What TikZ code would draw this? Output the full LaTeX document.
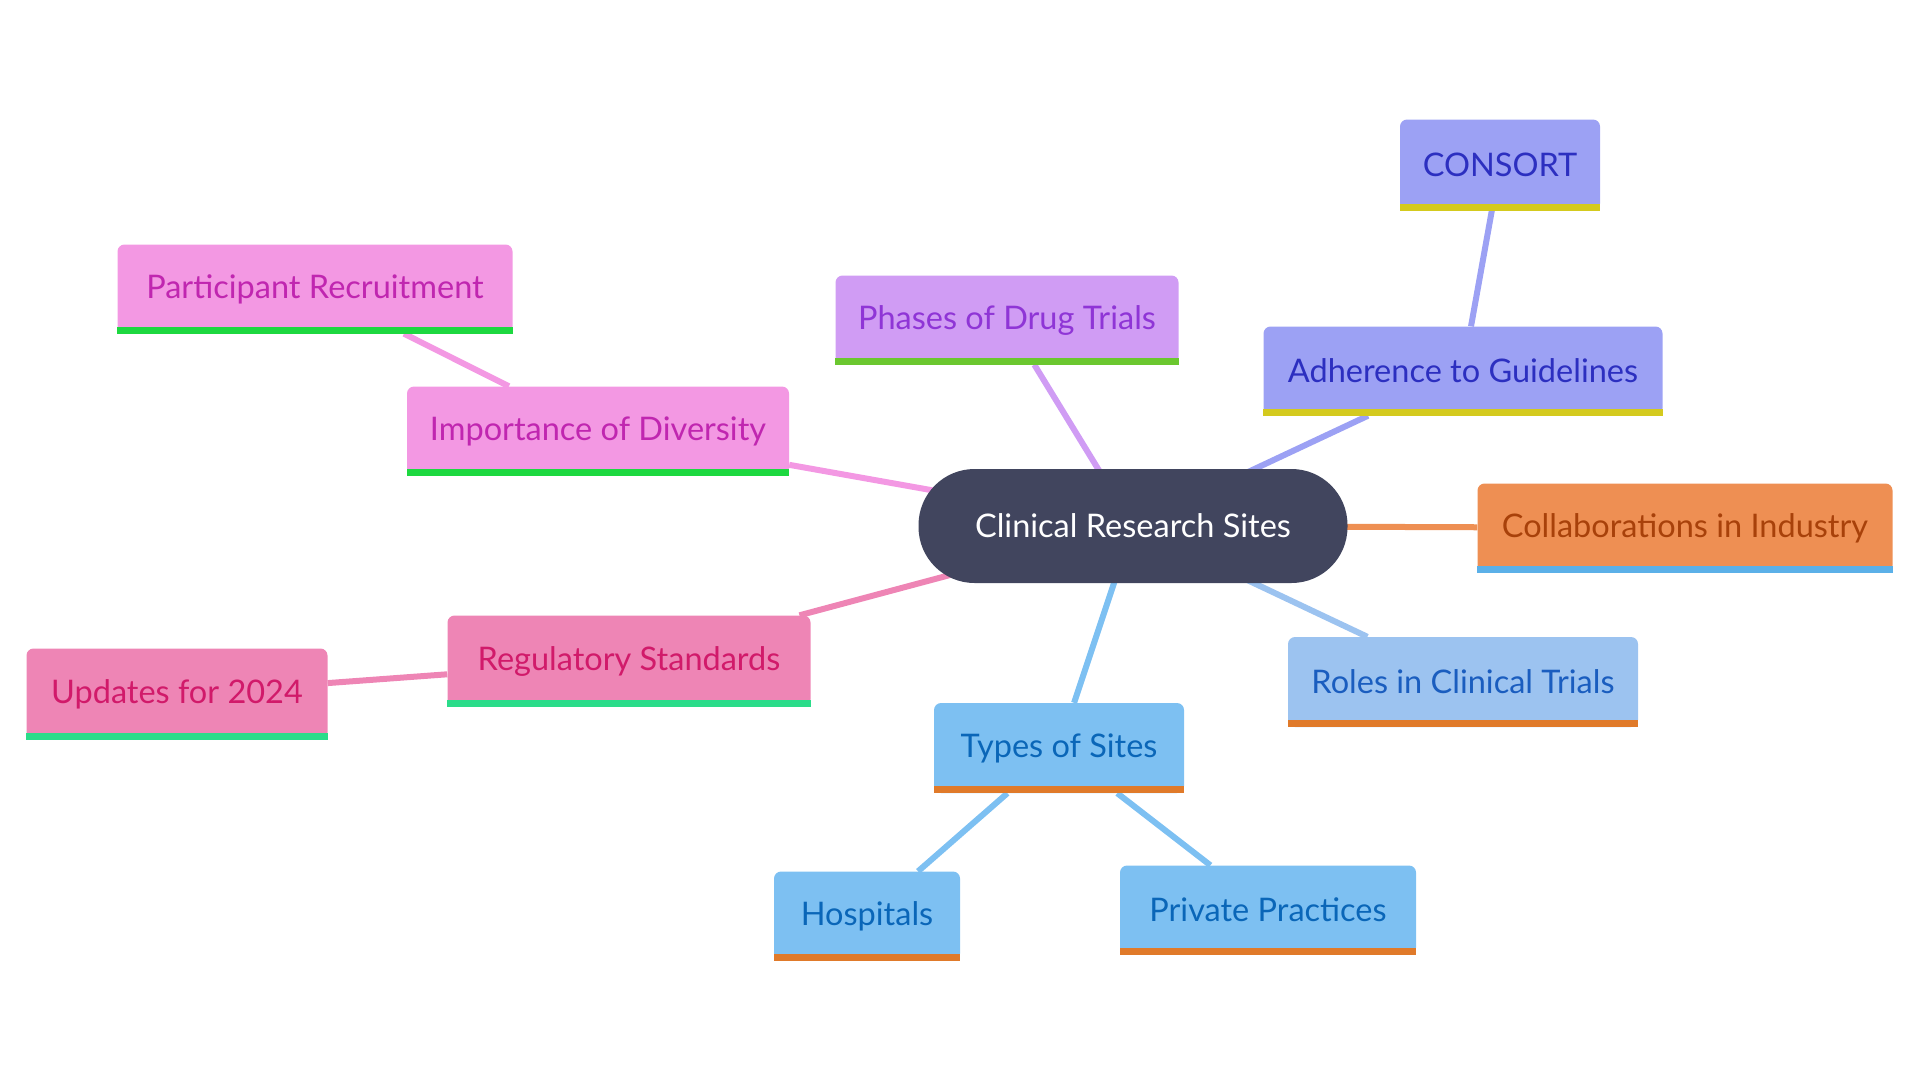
\documentclass[tikz,border=0pt]{standalone}
\usepackage{fontspec}
\setmainfont{Lato}
\usetikzlibrary{backgrounds}

\definecolor{hubfill}{HTML}{41455E}
\definecolor{pinkfill}{HTML}{F398E3}
\definecolor{pinktext}{HTML}{C026B0}
\definecolor{rosefill}{HTML}{EE85B5}
\definecolor{rosetext}{HTML}{D11A6A}
\definecolor{lilacfill}{HTML}{D09CF4}
\definecolor{lilactext}{HTML}{8F35D6}
\definecolor{indigofill}{HTML}{9CA1F4}
\definecolor{indigotext}{HTML}{2C2FC0}
\definecolor{orangefill}{HTML}{EE8F53}
\definecolor{orangetext}{HTML}{A8410A}
\definecolor{paleblue}{HTML}{9CC3F0}
\definecolor{paletext}{HTML}{1A5DBF}
\definecolor{skyfill}{HTML}{7DC0F2}
\definecolor{skytext}{HTML}{0A66B8}
\definecolor{greenbar}{HTML}{1DD840}
\definecolor{mintbar}{HTML}{2BDC8A}
\definecolor{limebar}{HTML}{6BC72F}
\definecolor{yellowbar}{HTML}{D4CA1E}
\definecolor{bluebar}{HTML}{5BB0E8}
\definecolor{amberbar}{HTML}{E07A2A}

\begin{document}
\begin{tikzpicture}[x=1pt,y=-1pt]
\tikzstyle{topic} = [rounded corners=7pt, text centered, inner sep=0pt, minimum height=89pt, font=\fontsize{32.5}{38}\selectfont]
\tikzstyle{link} = [line width=6pt]

\useasboundingbox (0,0) rectangle (1920,1080);

\node (ClinicalSites) [rounded corners=56pt, fill=hubfill, text=white, minimum width=429pt, minimum height=114pt, font=\fontsize{32.5}{38}\selectfont] at (1133,526) {Clinical Research Sites};

\node (Diversity) [topic, fill=pinkfill, text=pinktext, minimum width=382pt] at (598,431) {Importance of Diversity};
\node (Recruitment) [topic, fill=pinkfill, text=pinktext, minimum width=395pt] at (315,289) {Participant Recruitment};
\node (DrugPhases) [topic, fill=lilacfill, text=lilactext, minimum width=343pt] at (1007,320) {Phases of Drug Trials};
\node (Guidelines) [topic, fill=indigofill, text=indigotext, minimum width=399pt] at (1463,371) {Adherence to Guidelines};
\node (Consort) [topic, fill=indigofill, text=indigotext, minimum width=200pt, minimum height=91pt] at (1500,165) {CONSORT};
\node (Collaborations) [topic, fill=orangefill, text=orangetext, minimum width=415pt] at (1685,528) {Collaborations in Industry};
\node (Roles) [topic, fill=paleblue, text=paletext, minimum width=350pt, minimum height=90pt] at (1463,682) {Roles in Clinical Trials};
\node (SiteTypes) [topic, fill=skyfill, text=skytext, minimum width=250pt, minimum height=90pt] at (1059,748) {Types of Sites};
\node (Hospitals) [topic, fill=skyfill, text=skytext, minimum width=186pt] at (867,916) {Hospitals};
\node (PrivatePractices) [topic, fill=skyfill, text=skytext, minimum width=296pt] at (1268,910) {Private Practices};
\node (Regulatory) [topic, fill=rosefill, text=rosetext, minimum width=363pt, minimum height=91pt] at (629,661) {Regulatory Standards};
\node (Updates) [topic, fill=rosefill, text=rosetext, minimum width=301pt, minimum height=91pt] at (177,694) {Updates for 2024};

% coloured strip under each topic
\foreach \n/\c in {Diversity/greenbar, Recruitment/greenbar, DrugPhases/limebar,
  Guidelines/yellowbar, Consort/yellowbar, Collaborations/bluebar, Roles/amberbar,
  SiteTypes/amberbar, Hospitals/amberbar, PrivatePractices/amberbar,
  Regulatory/mintbar, Updates/mintbar}
  \fill[\c] ([yshift=7pt]\n.south west) rectangle (\n.south east);

\begin{scope}[on background layer]
\draw[link, pinkfill] (ClinicalSites.center) -- (Diversity);
\draw[link, pinkfill] (Diversity) -- (Recruitment);
\draw[link, lilacfill] (ClinicalSites.center) -- (DrugPhases);
\draw[link, indigofill] (ClinicalSites.center) -- (Guidelines);
\draw[link, indigofill] (Guidelines) -- (Consort);
\draw[link, orangefill] (ClinicalSites.center) -- (Collaborations);
\draw[link, paleblue] (ClinicalSites.center) -- (Roles);
\draw[link, skyfill] (ClinicalSites.center) -- (SiteTypes);
\draw[link, skyfill] (SiteTypes) -- (Hospitals);
\draw[link, skyfill] (SiteTypes) -- (PrivatePractices);
\draw[link, rosefill] (ClinicalSites.center) -- (Regulatory);
\draw[link, rosefill] (Regulatory) -- (Updates);
\end{scope}

\end{tikzpicture}
\end{document}
